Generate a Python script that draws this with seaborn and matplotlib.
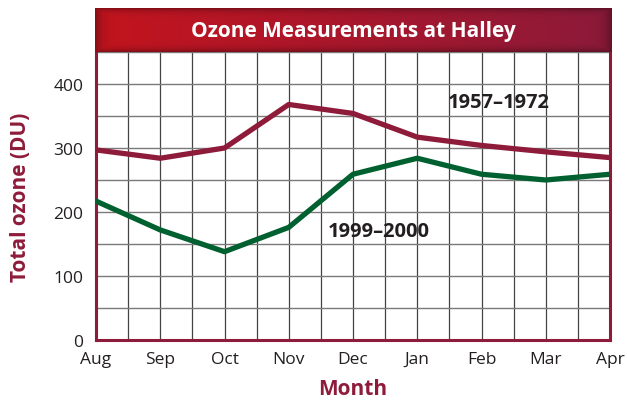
import numpy as np
import pandas as pd
import matplotlib
matplotlib.use('Agg')
import matplotlib.pyplot as plt
import seaborn as sns

# ── Data ─────────────────────────────────────────────────────────────────────
months = ['Aug', 'Sep', 'Oct', 'Nov', 'Dec', 'Jan', 'Feb', 'Mar', 'Apr']
ozone_1957_1972 = [297, 284, 300, 368, 354, 317, 304, 294, 285]
ozone_1999_2000 = [217, 172, 138, 176, 259, 284, 259, 250, 259]
series_names = ['1957–1972', '1999–2000']
y_ticks = [0, 100, 200, 300, 400]

df = pd.concat([
    pd.DataFrame({'pos': range(len(months)), 'month': months,
                  'ozone': vals, 'period': name})
    for name, vals in zip(series_names, [ozone_1957_1972, ozone_1999_2000])
], ignore_index=True)

# ── Style ────────────────────────────────────────────────────────────────────
sns.set_style('white')
plt.rcParams['font.family'] = ['Open Sans', 'DejaVu Sans']
MAROON = '#8E1B3A'
GREEN = '#00602F'
TEXT = '#231F20'

fig = plt.figure(figsize=(6.27, 4.02), dpi=100)
ax = fig.add_axes([96 / 627, 1 - 341 / 402, (610 - 96) / 627, (341 - 53) / 402])

sns.lineplot(data=df, x='pos', y='ozone', hue='period',
             palette={series_names[0]: MAROON, series_names[1]: GREEN},
             linewidth=3.8, legend=False, ax=ax, zorder=3)

ax.set_xlim(0, len(months) - 1)
ax.set_ylim(0, 450)

# half-month vertical grid, 50 DU horizontal grid
for x in np.arange(0, len(months) - 0.5, 0.5):
    ax.axvline(x, color='#444444', lw=0.9, zorder=1)
for y in range(50, 451, 50):
    ax.axhline(y, color='#7a7a7a', lw=1.0, zorder=1)

ax.set_xticks(range(len(months)))
ax.set_xticklabels(months)
ax.set_yticks(y_ticks)
ax.tick_params(axis='both', length=0, labelsize=12.5, labelcolor=TEXT)
ax.tick_params(axis='x', pad=8)
ax.tick_params(axis='y', pad=9)

for side in ['left', 'bottom', 'right']:
    ax.spines[side].set_color(MAROON)
    ax.spines[side].set_linewidth(2.2)
ax.spines['top'].set_visible(False)

ax.set_xlabel('Month', fontsize=15, fontweight='bold', color=MAROON, labelpad=8)
ax.set_ylabel('Total ozone (DU)', fontsize=15, fontweight='bold', color=MAROON, labelpad=16)

ax.text(6.27, 372, series_names[0], ha='center', va='center', fontsize=14.5,
        fontweight='bold', color=TEXT, zorder=4)
ax.text(4.4, 170, series_names[1], ha='center', va='center', fontsize=14.5,
        fontweight='bold', color=TEXT, zorder=4)

# ── Title banner with red gradient ───────────────────────────────────────────
bax = fig.add_axes([95 / 627, 1 - 53 / 402, (612 - 95) / 627, (53 - 9) / 402])
w, h = 300, 40
t = np.linspace(0, 1, w)
left_c = np.array([0xC4, 0x14, 0x1E]) / 255
right_c = np.array([0x8C, 0x1A, 0x3A]) / 255
row = left_c[None, :] * (1 - t[:, None]) + right_c[None, :] * t[:, None]
img = np.repeat(row[None, :, :], h, axis=0)
vy = np.linspace(-1, 1, h)
vx = np.linspace(-1, 1, w)
shade = 1 - 0.3 * np.clip(np.maximum(np.abs(vy)[:, None] ** 6, np.abs(vx)[None, :] ** 40), 0, 1)
img = img * shade[:, :, None]
bax.imshow(img, aspect='auto', extent=[0, 1, 0, 1])
bax.set_axis_off()
bax.text(0.5, 0.5, 'Ozone Measurements at Halley', ha='center', va='center',
         fontsize=15, fontweight='bold', color='white', transform=bax.transAxes)

plt.savefig('out.png', dpi=100)
plt.close()
